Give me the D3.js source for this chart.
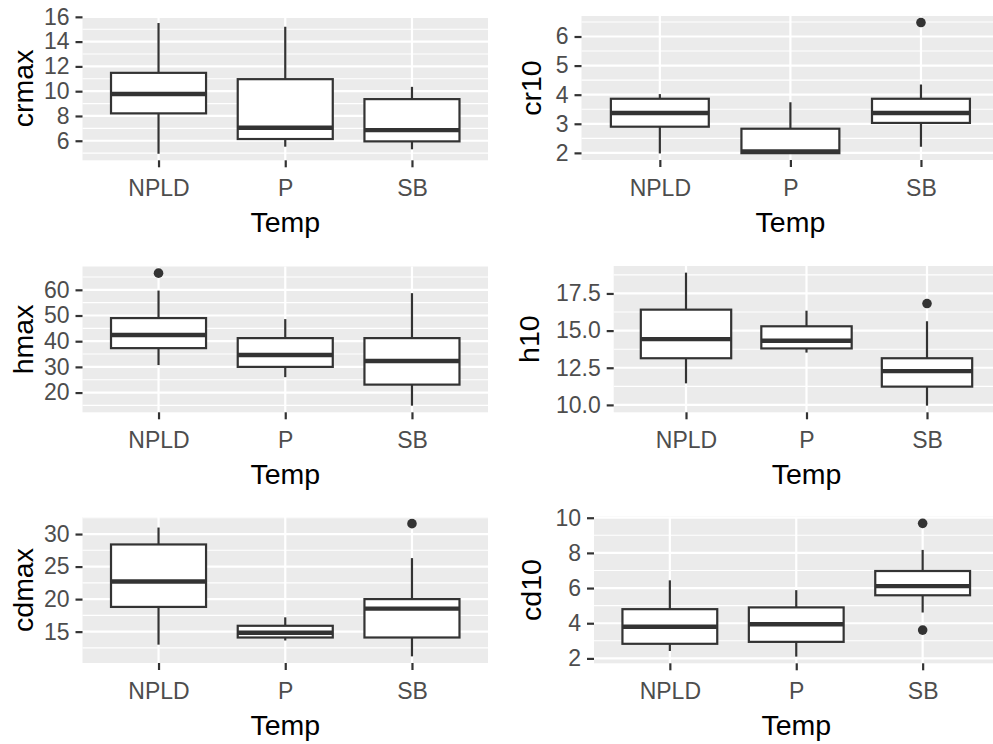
<!DOCTYPE html>
<html>
<head>
<meta charset="utf-8">
<script src="https://cdn.jsdelivr.net/npm/d3@7"></script>
<style>
  html, body { margin: 0; padding: 0; background: #ffffff; }
  svg { display: block; }
  text { font-family: "Liberation Sans", Arial, sans-serif; }
</style>
</head>
<body>
<svg id="chart" width="993" height="744"></svg>
<script>
// ---------------- DATA ----------------
const categories = ["NPLD", "P", "SB"];
const xTitle = "Temp";

// five-number summaries per category: [lower whisker, Q1, median, Q3, upper whisker]
const crmaxStats = [[4.95, 8.21, 9.77, 11.48, 15.5], [5.52, 6.14, 7.05, 10.97, 15.2], [5.31, 5.95, 6.86, 9.36, 10.35]];
const crmaxOutliers = [[], [], []];
const crmaxTicks = [6, 8, 10, 12, 14, 16];
const crmaxTickLabels = ["6", "8", "10", "12", "14", "16"];
const crmaxMinor = [5, 7, 9, 11, 13, 15];

const cr10Stats = [[1.98, 2.90, 3.37, 3.86, 4.02], [1.99, 1.99, 2.05, 2.83, 3.74], [2.21, 3.03, 3.37, 3.86, 4.35]];
const cr10Outliers = [[], [], [6.48]];
const cr10Ticks = [2, 3, 4, 5, 6];
const cr10TickLabels = ["2", "3", "4", "5", "6"];
const cr10Minor = [2.5, 3.5, 4.5, 5.5, 6.5];

const hmaxStats = [[30.7, 37.3, 42.4, 49.0, 59.7], [26.0, 30.0, 34.6, 41.2, 48.6], [14.9, 23.1, 32.3, 41.2, 58.7]];
const hmaxOutliers = [[66.5], [], []];
const hmaxTicks = [20, 30, 40, 50, 60];
const hmaxTickLabels = ["20", "30", "40", "50", "60"];
const hmaxMinor = [15, 25, 35, 45, 55, 65];

const h10Stats = [[11.45, 13.14, 14.43, 16.41, 18.9], [13.52, 13.80, 14.32, 15.29, 16.34], [9.95, 11.23, 12.27, 13.14, 15.63]];
const h10Outliers = [[], [], [16.82]];
const h10Ticks = [10, 12.5, 15, 17.5];
const h10TickLabels = ["10.0", "12.5", "15.0", "17.5"];
const h10Minor = [11.25, 13.75, 16.25, 18.75];

const cdmaxStats = [[13.0, 18.8, 22.7, 28.4, 31.0], [13.64, 14.1, 14.84, 15.9, 17.2], [11.2, 14.1, 18.54, 20.0, 26.3]];
const cdmaxOutliers = [[], [], [31.6]];
const cdmaxTicks = [15, 20, 25, 30];
const cdmaxTickLabels = ["15", "20", "25", "30"];
const cdmaxMinor = [12.5, 17.5, 22.5, 27.5, 32.5];

const cd10Stats = [[2.42, 2.83, 3.80, 4.80, 6.44], [2.1, 2.94, 3.94, 4.90, 5.88], [4.61, 5.59, 6.11, 6.97, 8.17]];
const cd10Outliers = [[], [], [9.68, 3.61]];
const cd10Ticks = [2, 4, 6, 8, 10];
const cd10TickLabels = ["2", "4", "6", "8", "10"];
const cd10Minor = [3, 5, 7, 9];

// ---------------- LAYOUT ----------------
const panels = [
  { title: "crmax", stats: crmaxStats, out: crmaxOutliers, ticks: crmaxTicks, labels: crmaxTickLabels, minor: crmaxMinor,
    left: 82.5, right: 488, top: 16.5, bottom: 160.3, titleX: 33 },
  { title: "cr10", stats: cr10Stats, out: cr10Outliers, ticks: cr10Ticks, labels: cr10TickLabels, minor: cr10Minor,
    left: 581.5, right: 999.3, top: 16, bottom: 160, titleX: 541 },
  { title: "hmax", stats: hmaxStats, out: hmaxOutliers, ticks: hmaxTicks, labels: hmaxTickLabels, minor: hmaxMinor,
    left: 82.5, right: 488, top: 266.5, bottom: 412.3, titleX: 33 },
  { title: "h10", stats: h10Stats, out: h10Outliers, ticks: h10Ticks, labels: h10TickLabels, minor: h10Minor,
    left: 613.7, right: 999.3, top: 266, bottom: 412.3, titleX: 539 },
  { title: "cdmax", stats: cdmaxStats, out: cdmaxOutliers, ticks: cdmaxTicks, labels: cdmaxTickLabels, minor: cdmaxMinor,
    left: 82.5, right: 488, top: 517, bottom: 663, titleX: 33 },
  { title: "cd10", stats: cd10Stats, out: cd10Outliers, ticks: cd10Ticks, labels: cd10TickLabels, minor: cd10Minor,
    left: 594, right: 998.5, top: 516.7, bottom: 663.3, titleX: 541 }
];

const svg = d3.select("#chart");
const tickFont = 23, titleFont = 28.5;
const ink = "#333333";

panels.forEach(p => {
  const g = svg.append("g");
  // y domain from data extent with 5% expansion (ggplot default)
  const vals = [];
  p.stats.forEach(s => vals.push(s[0], s[4]));
  p.out.forEach(o => o.forEach(v => vals.push(v)));
  const [mn, mx] = d3.extent(vals);
  const pad = (mx - mn) * 0.05;
  const y = d3.scaleLinear().domain([mn - pad, mx + pad]).range([p.bottom, p.top]);
  const x = d3.scalePoint().domain(categories).range([p.left, p.right]).padding(0.6);
  const step = x.step();
  const bw = step * 0.75;

  // panel background
  g.append("rect").attr("x", p.left).attr("y", p.top)
    .attr("width", p.right - p.left).attr("height", p.bottom - p.top).attr("fill", "#EBEBEB");

  // minor grid
  g.selectAll(".minor").data(p.minor.filter(v => v >= y.domain()[0] && v <= y.domain()[1])).enter()
    .append("line").attr("x1", p.left).attr("x2", p.right)
    .attr("y1", d => y(d)).attr("y2", d => y(d))
    .attr("stroke", "#ffffff").attr("stroke-width", 1.1);
  // major grid
  g.selectAll(".major").data(p.ticks).enter()
    .append("line").attr("x1", p.left).attr("x2", p.right)
    .attr("y1", d => y(d)).attr("y2", d => y(d))
    .attr("stroke", "#ffffff").attr("stroke-width", 2.2);
  g.selectAll(".vmajor").data(categories).enter()
    .append("line").attr("x1", d => x(d)).attr("x2", d => x(d))
    .attr("y1", p.top).attr("y2", p.bottom)
    .attr("stroke", "#ffffff").attr("stroke-width", 2.2);

  // boxes
  categories.forEach((c, i) => {
    const s = p.stats[i];
    const cx = x(c);
    g.append("line").attr("x1", cx).attr("x2", cx).attr("y1", y(s[3])).attr("y2", y(s[4]))
      .attr("stroke", ink).attr("stroke-width", 2.2);
    g.append("line").attr("x1", cx).attr("x2", cx).attr("y1", y(s[1])).attr("y2", y(s[0]))
      .attr("stroke", ink).attr("stroke-width", 2.2);
    g.append("rect").attr("x", cx - bw / 2).attr("y", y(s[3]))
      .attr("width", bw).attr("height", Math.max(0.01, y(s[1]) - y(s[3])))
      .attr("fill", "#ffffff").attr("stroke", ink).attr("stroke-width", 2.2);
    g.append("line").attr("x1", cx - bw / 2).attr("x2", cx + bw / 2)
      .attr("y1", y(s[2])).attr("y2", y(s[2]))
      .attr("stroke", ink).attr("stroke-width", 4.4);
    p.out[i].forEach(v => {
      g.append("circle").attr("cx", cx).attr("cy", y(v)).attr("r", 4.8).attr("fill", ink);
    });
  });

  // y axis
  const ya = d3.axisLeft(y).tickValues(p.ticks).tickFormat((d, i) => p.labels[i])
    .tickSize(7).tickPadding(6);
  const yg = g.append("g").attr("transform", `translate(${p.left},0)`).call(ya);
  yg.select(".domain").remove();
  yg.selectAll(".tick line").attr("stroke", ink).attr("stroke-width", 2.2);
  yg.selectAll(".tick text").attr("fill", "#4D4D4D").style("font-size", tickFont + "px")
    .style("font-family", "'Liberation Sans', Arial, sans-serif");

  // x axis
  const xa = d3.axisBottom(x).tickSize(7).tickPadding(6);
  const xg = g.append("g").attr("transform", `translate(0,${p.bottom})`).call(xa);
  xg.select(".domain").remove();
  xg.selectAll(".tick line").attr("stroke", ink).attr("stroke-width", 2.2);
  xg.selectAll(".tick text").attr("fill", "#4D4D4D").style("font-size", tickFont + "px")
    .style("font-family", "'Liberation Sans', Arial, sans-serif")
    .attr("dy", null).attr("y", 36).attr("dominant-baseline", "auto");

  // titles
  g.append("text").attr("x", (p.left + p.right) / 2).attr("y", p.bottom + 72)
    .attr("text-anchor", "middle").attr("fill", "#000000").style("font-size", titleFont + "px")
    .text(xTitle);
  const cy = (p.top + p.bottom) / 2;
  g.append("text").attr("transform", `translate(${p.titleX},${cy}) rotate(-90)`)
    .attr("text-anchor", "middle").attr("fill", "#000000").style("font-size", titleFont + "px")
    .text(p.title);
});
</script>
</body>
</html>
